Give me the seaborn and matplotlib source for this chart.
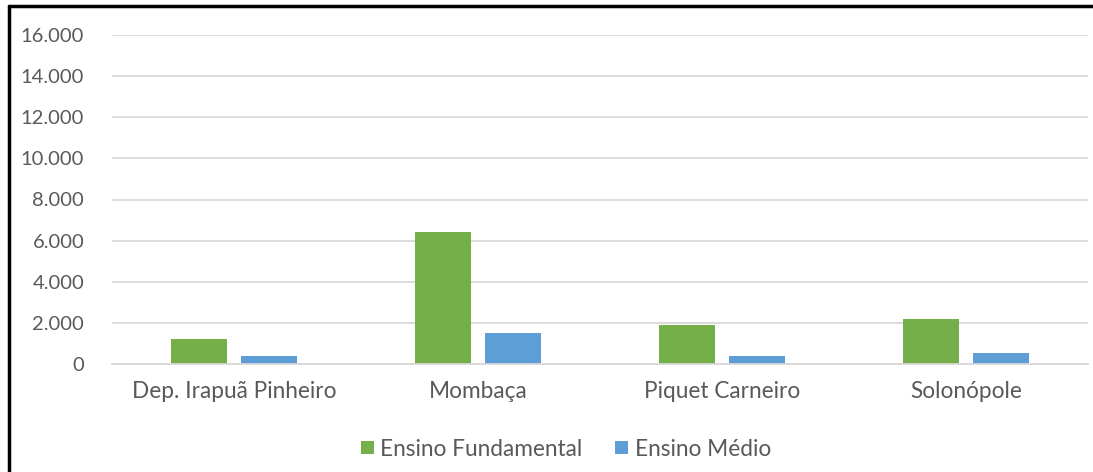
import matplotlib
matplotlib.use("Agg")
import matplotlib.pyplot as plt
import matplotlib.lines as mlines
import seaborn as sns
import pandas as pd
from matplotlib.ticker import FuncFormatter

categories = ["Dep. Irapuã Pinheiro", "Mombaça", "Piquet Carneiro", "Solonópole"]
series_names = ["Ensino Fundamental", "Ensino Médio"]
fundamental = [1220, 6420, 1910, 2170]
medio = [370, 1520, 400, 520]
yticks = [0, 2000, 4000, 6000, 8000, 10000, 12000, 14000, 16000]

rows = []
for c, f, m in zip(categories, fundamental, medio):
    rows.append({"cat": c, "serie": series_names[0], "val": f})
    rows.append({"cat": c, "serie": series_names[1], "val": m})
df = pd.DataFrame(rows)

sns.set_theme(style="white")
plt.rcParams["font.family"] = ["Lato", "DejaVu Sans"]

fig = plt.figure(figsize=(10.93, 4.72), dpi=100)
ax = fig.add_axes([112/1093, 1 - 364/472, (1088-112)/1093, (364-35)/472])

sns.barplot(data=df, x="cat", y="val", hue="serie", order=categories,
            hue_order=series_names, palette=["#75AF4A", "#5E9ED6"],
            width=0.574, gap=0.214, ax=ax, legend=True, errorbar=None,
            saturation=1, linewidth=0)

ax.set_ylim(0, 16000)
ax.set_yticks(yticks)
ax.yaxis.set_major_formatter(FuncFormatter(lambda v, p: f"{int(v):,}".replace(",", ".")))
ax.set_xlim(-0.5, 3.5)
ax.grid(axis="y", color="#d9d9d9", linewidth=1.3)
ax.set_axisbelow(True)
for s in ["top", "right", "left"]:
    ax.spines[s].set_visible(False)
ax.spines["bottom"].set_color("#d9d9d9")
ax.spines["bottom"].set_linewidth(1.3)
ax.set_xlabel("")
ax.set_ylabel("")
ax.tick_params(axis="y", colors="#595959", labelsize=14.5, length=0, pad=20)
ax.tick_params(axis="x", colors="#595959", labelsize=16.3, length=0, pad=12)
for lab in ax.get_yticklabels():
    lab.set_horizontalalignment("right")

handles, labels = ax.get_legend_handles_labels()
ax.legend(handles, labels, loc="center", bbox_to_anchor=(566/1093, 1 - 449/472),
          bbox_transform=fig.transFigure, ncol=2, frameon=False,
          fontsize=16.3, labelcolor="#595959", handlelength=0.55, handleheight=0.55,
          handletextpad=0.3, columnspacing=1.45)

fig.add_artist(mlines.Line2D([9/1093, 9/1093], [0, 1 - 6/472], color="black", linewidth=2.5, transform=fig.transFigure))
fig.add_artist(mlines.Line2D([9/1093, 1], [1 - 6/472, 1 - 6/472], color="black", linewidth=2.5, transform=fig.transFigure))

fig.savefig("out.png", dpi=100, facecolor="white")
